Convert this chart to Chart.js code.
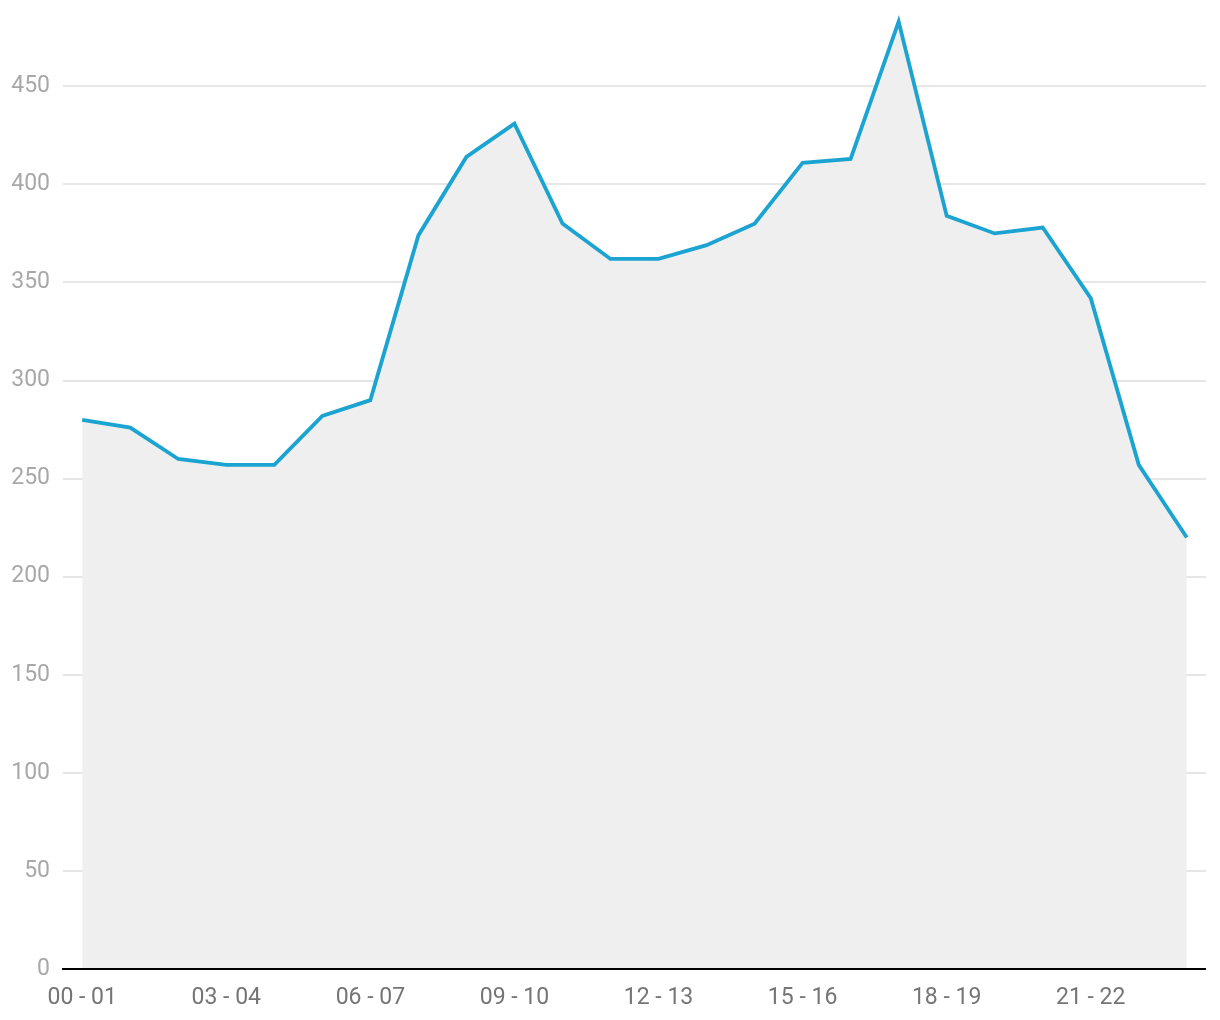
<!DOCTYPE html>
<html><head><meta charset="utf-8">
<script src="https://cdn.jsdelivr.net/npm/chart.js@4"></script>
<style>html,body{margin:0;padding:0;background:#fff}#wrap{width:1220px;height:1020px;position:relative}</style>
</head><body><div id="wrap"><canvas id="c"></canvas></div>
<script>
const categories = ['00 - 01','01 - 02','02 - 03','03 - 04','04 - 05','05 - 06','06 - 07','07 - 08','08 - 09','09 - 10','10 - 11','11 - 12','12 - 13','13 - 14','14 - 15','15 - 16','16 - 17','17 - 18','18 - 19','19 - 20','20 - 21','21 - 22','22 - 23','23 - 00'];
const values = [280,276,260,257,257,282,290,374,414,431,380,362,362,369,380,411,413,483,384,375,378,342,257,220];
const xTickIndices = [0,3,6,9,12,15,18,21];
const yTickValues = [0,50,100,150,200,250,300,350,400,450];

const points = values.map((v, i) => ({x: i, y: v}));

const axisLineOnTop = {
  id: 'axisLineOnTop',
  afterDatasetsDraw(chart) {
    const {ctx, chartArea} = chart;
    const yPos = chart.scales.y.getPixelForValue(0);
    ctx.save();
    ctx.strokeStyle = '#000';
    ctx.lineWidth = 2;
    ctx.beginPath();
    ctx.moveTo(chartArea.left - 1, yPos);
    ctx.lineTo(chartArea.right, yPos);
    ctx.stroke();
    ctx.restore();
  }
};

new Chart(document.getElementById('c'), {
  type: 'line',
  data: {
    datasets: [{
      data: points,
      borderColor: '#1ba3d1',
      borderWidth: 3.8,
      backgroundColor: '#efefef',
      fill: 'origin',
      pointRadius: 0,
      tension: 0
    }]
  },
  options: {
    responsive: true,
    maintainAspectRatio: false,
    animation: false,
    layout: {padding: {top: 0, right: 14, left: 0, bottom: 0}},
    plugins: {legend: {display: false}, tooltip: {enabled: false}},
    scales: {
      x: {
        type: 'linear',
        min: -0.4,
        max: 23.4,
        afterBuildTicks: s => { s.ticks = xTickIndices.map(v => ({value: v})); },
        afterFit: s => { s.height = 51; s.paddingLeft = 0; s.paddingRight = 0; },
        ticks: {
          callback: v => categories[v],
          color: '#757575',
          font: {family: 'Roboto', size: 23},
          padding: 15,
          maxRotation: 0,
          autoSkip: false
        },
        grid: {display: false, drawTicks: false},
        border: {display: false}
      },
      y: {
        min: 0,
        max: 494,
        afterBuildTicks: s => { s.ticks = yTickValues.map(v => ({value: v})); },
        afterFit: s => { s.width = 63; s.paddingTop = 0; s.paddingBottom = 0; },
        ticks: {
          color: '#a8a8a8',
          font: {family: 'Roboto', size: 23},
          padding: 13
        },
        grid: {color: '#e6e6e6', lineWidth: 2, drawTicks: false},
        border: {display: false}
      }
    }
  },
  plugins: [axisLineOnTop]
});
</script>
</body></html>
